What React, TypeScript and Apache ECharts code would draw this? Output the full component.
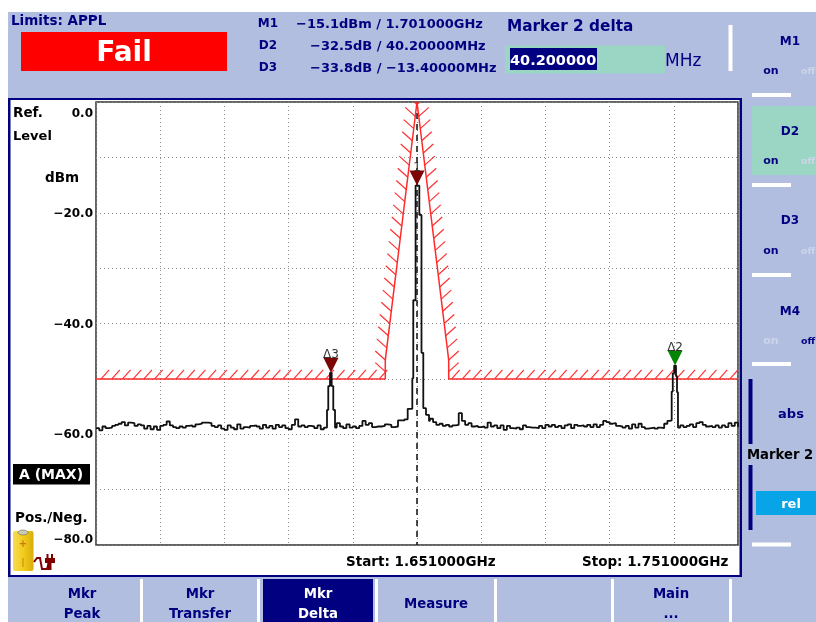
import React, { useEffect, useRef } from "react";
import * as echarts from "echarts";

// Frequency offset from the start of the sweep (MHz) and level (dBm)
const yTickLabels: Record<number, string> = { 0: "{top|0.0}", [-20]: "−20.0", [-40]: "−40.0", [-60]: "−60.0", [-80]: "−80.0" };

const noiseA = [
  -58.9, -59.3, -58.6, -58.9, -58.8, -58.5, -58.3, -58.1, -57.8, -58.4, -57.9, -58.0, -58.5, -58.2, -58.4, -59.0,
  -58.5, -59.1, -58.6, -59.2, -58.5, -58.3, -57.7, -58.4, -58.7, -58.9, -58.6, -58.8, -58.5, -58.4, -58.6, -58.2,
  -58.1, -57.9, -57.9, -58.0, -58.5, -58.7, -58.4, -59.0, -59.2, -58.4, -58.8, -59.1, -58.2, -59.0, -58.7, -58.8,
  -58.5, -58.4, -58.6, -59.0, -58.3, -58.8, -58.5, -59.0, -58.3, -58.7, -58.4, -58.9, -59.1, -58.3, -57.3, -58.6,
  -58.4, -58.7, -58.5, -58.6, -58.9, -58.4, -59.1, -58.8,
];
const noiseB = [-58.0, -58.6, -58.9, -58.2, -58.8, -58.6, -58.9, -58.5, -57.6, -58.3, -58.0, -58.7, -58.6, -58.6, -58.5, -58.2, -58.3, -58.7, -58.6];
const noiseC = [
  -57.2, -57.8, -58.3, -58.1, -58.5, -58.3, -58.6, -58.4, -58.3, -56.2, -57.6, -58.3, -58.0, -58.6, -58.5, -58.7,
  -58.6, -58.8, -57.9, -58.6, -58.4, -58.9, -58.4, -59.2, -58.5, -58.9, -59.0, -58.8, -59.1, -58.4, -58.7, -58.8,
  -58.8, -58.9, -58.5, -58.9, -58.3, -58.6, -58.3, -58.7, -58.5, -58.9, -58.4, -58.2, -58.9, -58.3, -58.5, -58.4,
  -58.6, -58.3, -58.7, -58.2, -58.7, -58.3, -57.6, -57.8, -58.1, -58.0, -58.5, -58.6, -58.8, -58.5, -59.0, -58.2,
  -58.8, -58.1, -58.7, -59.0, -58.9, -58.8, -59.0, -58.8, -58.9, -58.1, -57.6,
];
const noiseD = [-58.4, -58.7, -58.5, -58.2, -58.7, -58.0, -57.8, -58.3, -58.6, -58.5, -58.7, -58.4, -58.8, -58.4, -58.7, -58.0, -58.5, -57.9, -58.7];

const peakD3: number[][] = [[35.98, -55.6], [36.18, -51.3], [36.45, -48.9], [36.71, -51.3], [36.96, -55.6], [37.23, -58.8]];
const peakMain: number[][] = [
  [47.04, -57.5], [48.05, -57.3], [48.55, -55.4], [49.27, -49.9], [49.42, -35.8], [49.78, -15.1], [50.36, -20.4],
  [50.7, -45.3], [50.98, -55.3], [51.4, -56.5], [51.87, -57.6],
];
const peakD2: number[][] = [[89.41, -57.5], [89.67, -52.3], [89.84, -49.0], [90.06, -47.6], [90.34, -49.5], [90.5, -52.4], [90.65, -58.8]];

const limitLine: number[][] = [[0, -50], [45.06, -50], [45.06, -46.6], [50, 0], [54.94, -46.6], [54.94, -50], [100, -50]];
const limitSlopeLeft: number[][] = [
  [45.06, -48.7], [45.06, -46.6], [45.29, -44.4], [45.53, -42.2], [45.76, -40], [45.99, -37.8], [46.23, -35.6], [46.46, -33.4],
  [46.69, -31.2], [46.93, -29], [47.16, -26.8], [47.39, -24.6], [47.63, -22.4], [47.86, -20.2], [48.09, -18], [48.33, -15.8],
  [48.56, -13.6], [48.79, -11.4], [49.02, -9.2], [49.26, -7], [49.49, -4.8], [49.72, -2.6], [49.96, -0.4],
];
const limitFlatLeft = [0.8, 2.47, 4.14, 5.8, 7.47, 9.14, 10.8, 12.47, 14.14, 15.8, 17.47, 19.14, 20.8, 22.47, 24.14, 25.8, 27.47, 29.14, 30.8, 32.47, 34.14, 35.8, 37.47, 39.14, 40.8, 42.47, 44.14];
const limitFlatRight = [55.4, 57.07, 58.74, 60.4, 62.07, 63.74, 65.4, 67.07, 68.74, 70.4, 72.07, 73.74, 75.4, 77.07, 78.74, 80.4, 82.07, 83.74, 85.4, 87.07, 88.74, 90.4, 92.07, 93.74, 95.4, 97.07, 98.74];

const markers = [
  { name: "1", value: [50, -15.1], color: "#7d0505" },
  { name: "Δ2", value: [90.2, -47.6], color: "#058505" },
  { name: "Δ3", value: [36.6, -48.9], color: "#7d0505" },
];
const centerLine: number[][] = [[50, 0], [50, -80]];

const BG = "#b1bedf";
const NAVY = "#000080";
const WHITE = "#ffffff";
const FAINT = "#cdd5ea";
const FAMILY = '"DejaVu Sans"';

function buildTrace(): number[][] {
  const run = (start: number, vals: number[]) => vals.map((v, i) => [start + i * 0.5, v]);
  return [
    ...run(0, noiseA),
    ...peakD3,
    ...run(37.5, noiseB),
    ...peakMain,
    ...run(52, noiseC),
    ...peakD2,
    ...run(91, noiseD),
  ];
}

function txt(text: string, x: number, y: number, o: any = {}) {
  return {
    type: "text",
    x,
    y,
    z: 100,
    silent: true,
    style: {
      text,
      fill: o.fill ?? NAVY,
      font: `${o.weight ?? "bold"} ${o.size ?? 13.3}px ${o.family ?? FAMILY}`,
      align: o.align ?? "center",
      verticalAlign: "middle",
    },
  };
}
function box(x: number, y: number, width: number, height: number, fill: any, z = -5) {
  return { type: "rect", z, silent: true, shape: { x, y, width, height }, style: { fill } };
}

function chrome(): any[] {
  const bk = "#000000";
  const off = { size: 9.5, align: "left" };
  return [
    box(0, 0, 816, 622, WHITE, -20),
    box(8, 12, 808, 610, BG, -19),
    box(8, 98, 734, 479, NAVY, -18),
    box(10.5, 100, 729, 475, WHITE, -17),

    txt("Limits: APPL", 11, 19.5, { align: "left", size: 13.5 }),
    box(21, 32, 206, 39, "#ff0000"),
    txt("Fail", 124, 51, { fill: WHITE, size: 28 }),
    txt("M1", 268, 23, { size: 12 }),
    txt("D2", 268, 45, { size: 12 }),
    txt("D3", 268, 67, { size: 12 }),
    txt("−15.1dBm / 1.701000GHz", 296, 23, { align: "left", size: 13 }),
    txt("−32.5dB / 40.20000MHz", 310, 45, { align: "left", size: 13 }),
    txt("−33.8dB / −13.40000MHz", 310, 67, { align: "left", size: 13 }),
    txt("Marker 2 delta", 507, 26, { align: "left", size: 15.3 }),
    box(505, 45.5, 160, 28, "#9ad6c3"),
    box(510, 48, 87, 22, NAVY),
    txt("40.200000", 510, 59.5, { align: "left", size: 14.5, fill: WHITE }),
    txt("MHz", 665, 59.5, { align: "left", size: 17, weight: "normal" }),

    box(728.5, 25, 4, 46, WHITE),
    txt("M1", 790, 41, { size: 12 }),
    txt("on", 771, 70, { size: 11 }),
    txt("off", 801, 70, { ...off, fill: FAINT }),
    box(752, 93, 39, 4, WHITE),
    box(752, 106, 64, 69, "#9ad6c3"),
    txt("D2", 790, 131, { size: 12 }),
    txt("on", 771, 160, { size: 11 }),
    txt("off", 801, 160, { ...off, fill: FAINT }),
    box(752, 183, 39, 4, WHITE),
    txt("D3", 790, 220, { size: 12 }),
    txt("on", 771, 250, { size: 11 }),
    txt("off", 801, 250, { ...off, fill: FAINT }),
    box(752, 273, 39, 4, WHITE),
    txt("M4", 790, 311, { size: 12 }),
    txt("on", 771, 340, { size: 11, fill: FAINT }),
    txt("off", 801, 340, off),
    box(752, 362, 39, 4, WHITE),
    box(748.5, 379, 4, 65, NAVY),
    txt("abs", 791, 413, { size: 13 }),
    txt("Marker 2", 747, 454, { align: "left", fill: bk, size: 13.2 }),
    box(748.5, 465, 4, 65, NAVY),
    box(756, 491, 60, 24, "#08a4e8"),
    txt("rel", 791, 503, { size: 13, fill: WHITE }),
    box(752, 542.5, 39, 4, WHITE),

    box(140, 579, 3, 43, WHITE),
    box(257, 579, 3, 43, WHITE),
    box(375, 579, 3, 43, WHITE),
    box(494, 579, 3, 43, WHITE),
    box(611, 579, 3, 43, WHITE),
    box(729, 579, 3, 43, WHITE),
    box(263, 579, 110, 43, NAVY),
    txt("Mkr", 82, 593),
    txt("Peak", 82, 613),
    txt("Mkr", 200, 593),
    txt("Transfer", 200, 613),
    txt("Mkr", 318, 593, { fill: WHITE }),
    txt("Delta", 318, 613, { fill: WHITE }),
    txt("Measure", 436, 603),
    txt("Main", 671, 593),
    txt("...", 671, 613),

    txt("Ref.", 13, 112, { align: "left", fill: bk, size: 13.5 }),
    txt("Level", 13, 135, { align: "left", fill: bk, size: 13 }),
    txt("dBm", 62, 177, { fill: bk, size: 13.5 }),
    box(13, 464, 77, 20.5, "#000000", 50),
    txt("A (MAX)", 51, 474, { fill: WHITE, size: 14 }),
    txt("Pos./Neg.", 15, 517, { align: "left", fill: bk, size: 13.5 }),
    txt("Start: 1.651000GHz", 346, 561, { align: "left", fill: bk, size: 13.5 }),
    txt("Stop: 1.751000GHz", 582, 561, { align: "left", fill: bk, size: 13.5 }),

    {
      type: "rect",
      z: 60,
      silent: true,
      shape: { x: 13, y: 531, width: 20.5, height: 40, r: 2 },
      style: {
        fill: new echarts.graphic.LinearGradient(0, 0, 1, 0, [
          { offset: 0, color: "#f7dc55" },
          { offset: 0.5, color: "#f2cc1a" },
          { offset: 1, color: "#d8ac0c" },
        ]),
      },
    },
    { type: "ellipse", z: 61, silent: true, shape: { cx: 23, cy: 532.5, rx: 5, ry: 2.5 }, style: { fill: "#c9c9b5", stroke: "#555", lineWidth: 0.5 } },
    txt("+", 23, 543, { size: 10, fill: "#c87a10" }),
    txt("|", 23, 562, { size: 8, fill: "#c87a10" }),
    {
      type: "polyline",
      z: 60,
      silent: true,
      shape: { points: [[34, 562], [37, 558], [40, 558], [42, 569], [47, 569], [49, 562]] },
      style: { stroke: "#800000", fill: "none", lineWidth: 2 },
    },
    box(45, 558, 10, 5, "#800000", 60),
    box(46.5, 554, 2, 5, "#800000", 60),
    box(51, 554, 2, 5, "#800000", 60),
    box(47.5, 562, 4, 8, "#800000", 60),
  ];
}

function renderHatch(params: any, api: any) {
  const p = api.coord([api.value(0), api.value(1)]);
  const dx = api.value(2);
  const dy = api.value(3);
  return {
    type: "line",
    shape: { x1: p[0], y1: p[1], x2: p[0] + dx, y2: p[1] + dy },
    style: { stroke: "#ff3030", lineWidth: 1.2, fill: "none" },
  };
}

function hatchData(): number[][] {
  return [
    ...limitFlatLeft.map((o) => [o, -50, 8, -9]),
    ...limitFlatRight.map((o) => [o, -50, 8, -9]),
    ...limitSlopeLeft.map(([o, l]) => [o, l, -10, -9]),
    ...limitSlopeLeft.map(([o, l]) => [100 - o, l, 10, -9]),
  ];
}

export default function App() {
  const ref = useRef<HTMLDivElement>(null);
  useEffect(() => {
    const chart = echarts.init(ref.current!, undefined, { renderer: "svg" });
    const dotted = { show: true, lineStyle: { color: "#8a8a8a", width: 1, type: [1, 3] as any } };
    chart.setOption({
      animation: false,
      graphic: { elements: chrome() },
      grid: { show: true, left: 96, top: 102, width: 642, height: 443, backgroundColor: "#ffffff", borderColor: "#333333", borderWidth: 1.5, z: 0 },
      xAxis: {
        type: "value",
        min: 0,
        max: 100,
        interval: 10,
        axisLine: { show: false },
        axisTick: { show: false },
        axisLabel: { show: false },
        splitLine: dotted,
      },
      yAxis: {
        type: "value",
        min: -80,
        max: 0,
        interval: 10,
        axisLine: { show: false },
        axisTick: { show: false },
        splitLine: dotted,
        axisLabel: {
          margin: 3,
          color: "#000000",
          fontWeight: "bold",
          fontSize: 12,
          fontFamily: FAMILY,
          verticalAlignMinLabel: "bottom",
          verticalAlignMaxLabel: "top",
          formatter: (v: number) => yTickLabels[v] ?? "",
          rich: {
            top: { color: "#000000", fontWeight: "bold", fontSize: 12, fontFamily: FAMILY, padding: [5, 0, 0, 0] },
          },
        },
      },
      series: [
        {
          type: "line",
          data: centerLine,
          symbol: "none",
          silent: true,
          z: 3,
          lineStyle: { color: "#111111", width: 1.5, type: [6, 5] },
        },
        {
          type: "line",
          data: limitLine,
          symbol: "none",
          silent: true,
          z: 4,
          lineStyle: { color: "#ff2a2a", width: 1.5 },
        },
        {
          type: "custom",
          data: hatchData(),
          renderItem: renderHatch,
          silent: true,
          z: 4,
          clip: true,
          encode: { x: 0, y: 1 },
        },
        {
          type: "line",
          data: buildTrace(),
          step: "end",
          symbol: "none",
          silent: true,
          z: 5,
          lineStyle: { color: "#111111", width: 1.8 },
        },
        {
          type: "scatter",
          silent: true,
          z: 6,
          symbol: "triangle",
          symbolRotate: 180,
          symbolSize: [15, 15],
          symbolOffset: [0, -7.5],
          data: markers.map((m) => ({ name: m.name, value: m.value, itemStyle: { color: m.color, opacity: 1 } })),
          label: {
            show: true,
            position: "top",
            distance: -2,
            formatter: "{b}",
            color: "#333333",
            fontSize: 12,
            fontFamily: FAMILY,
          },
        },
      ],
    });
    return () => chart.dispose();
  }, []);
  return <div ref={ref} style={{ position: "fixed", left: 0, top: 0, width: 816, height: 622, overflow: "hidden" }} />;
}
